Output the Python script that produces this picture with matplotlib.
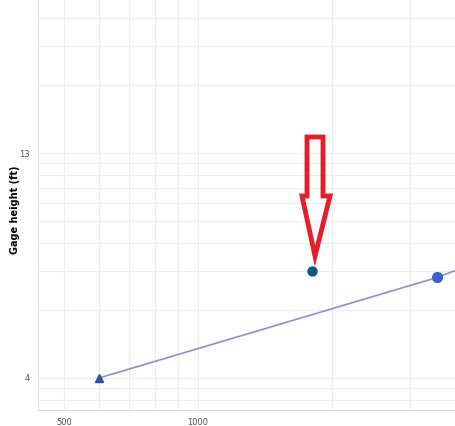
import numpy as np
import matplotlib.pyplot as plt
from matplotlib.patches import Polygon

# rating curve segment and measurement point
line_q = [600, 3450, 4200]
line_gh = [4.0, 5.8, 6.25]
meas_q = [1800]
meas_gh = [6.0]
offset = 3.0  # gage height of zero flow used for the log axis

xticks = [500, 1000]
yticks = [4, 13]
x_grid = [500, 600, 700, 800, 900, 1000, 2000, 3000]
y_grid = [offset + v for v in [0.8, 0.9, 1, 2, 3, 4, 5, 6, 7, 8, 9, 10, 20, 30, 40]]

fig = plt.figure(figsize=(4.56, 4.26), dpi=100)
ax = fig.add_axes([38 / 456, 16 / 426, 1 - 38 / 456, 1 - 16 / 426])

ax.set_xscale("log")
ax.set_yscale("function", functions=(lambda h: np.log10(np.clip(h - offset, 1e-6, None)),
                                     lambda v: offset + 10 ** v))
ax.set_xlim(437, 3800)
ax.set_ylim(3.72, 51)

for g in x_grid:
    ax.axvline(g, color="#ececec", lw=0.8, zorder=0)
for g in y_grid:
    ax.axhline(g, color="#ececec", lw=0.8, zorder=0)

ax.plot(line_q, line_gh, color="#8594cc", lw=1.2, zorder=2)
ax.plot(line_q[:1], line_gh[:1], marker="^", ms=6, color="#2e4fa8", ls="none", zorder=3)
ax.plot(line_q[1:2], line_gh[1:2], marker="o", ms=7, color="#3a5fcd", ls="none", zorder=3)
ax.plot(meas_q, meas_gh, marker="o", ms=6.5, color="#0b5a80", ls="none", zorder=3)

ax.set_xticks(xticks)
ax.set_xticklabels([str(t) for t in xticks])
ax.set_yticks(yticks)
ax.set_yticklabels([str(t) for t in yticks])
ax.xaxis.set_minor_locator(plt.NullLocator())
ax.yaxis.set_minor_locator(plt.NullLocator())
ax.tick_params(length=0, labelsize=6, colors="#555555", pad=6)
fig.text(15 / 456, 1 - 210 / 426, "Gage height (ft)", fontsize=7, fontweight="bold",
         rotation=90, ha="center", va="center")

for s in ["top", "right"]:
    ax.spines[s].set_visible(False)
for s in ["left", "bottom"]:
    ax.spines[s].set_color("#dddddd")

# red hollow arrow annotation (in figure pixel coords)
W, H = 456, 426
pts = [(307, 137), (323, 137), (323, 196), (330, 196), (315, 256), (302, 196), (307, 196)]
arrow = Polygon([(x / W, 1 - y / H) for x, y in pts], closed=True, fill=False,
                edgecolor="#e3202a", lw=3.5, transform=fig.transFigure, joinstyle="miter")
fig.add_artist(arrow)

fig.savefig("out.png", dpi=100)
